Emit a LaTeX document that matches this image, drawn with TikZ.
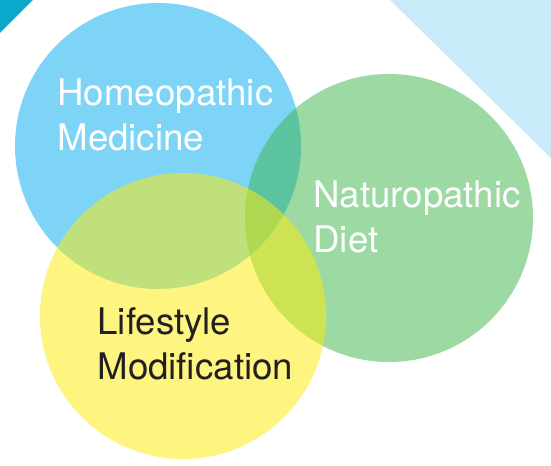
\documentclass[tikz,border=0pt]{standalone}
\usepackage{fontspec}
\setmainfont{TeX Gyre Heros}
\tikzset{every picture/.style={line width=0.75pt}}

\begin{document}
\begin{tikzpicture}[x=0.75pt,y=0.75pt,yscale=-1,xscale=1]
    \useasboundingbox (0,0) rectangle (551,466);
    %Shape: Right Triangle [id:corner_left]
    \fill [fill={rgb, 255:red, 10; green, 169; blue, 203 }] (0,0) -- (33,0) -- (0,33) -- cycle ;
    %Shape: Right Triangle [id:corner_right]
    \fill [fill={rgb, 255:red, 200; green, 234; blue, 249 }] (390,0) -- (551,0) -- (551,158) -- cycle ;
    %Shape: Circle [id:circ_homeo]
    \fill [fill={rgb, 255:red, 126; green, 212; blue, 246 }  ,fill opacity=1 ] (158,146) circle (143) ;
    %Shape: Circle [id:circ_naturo]
    \fill [fill={rgb, 255:red, 57; green, 179; blue, 71 }  ,fill opacity=0.5 ] (389,218) circle (144) ;
    %Shape: Circle [id:circ_life]
    \fill [fill={rgb, 255:red, 251; green, 236; blue, 11 }  ,fill opacity=0.52 ] (183,316) circle (143) ;
    % Text Node
    \node (homeo) at (57,78) [anchor=north west][inner sep=0pt][align=left][text=white][font=\fontsize{27.5}{33.75}\selectfont] {Homeopathic\\Medicine};
    % Text Node
    \node (naturo) at (313,180) [anchor=north west][inner sep=0pt][align=left][text=white][font=\fontsize{27.5}{33.75}\selectfont] {Naturopathic\\Diet};
    % Text Node
    \node (life) at (97,307) [anchor=north west][inner sep=0pt][align=left][text={rgb, 255:red, 35; green, 31; blue, 32 }][font=\fontsize{27.5}{33.75}\selectfont] {Lifestyle\\Modification};
\end{tikzpicture}
\end{document}
